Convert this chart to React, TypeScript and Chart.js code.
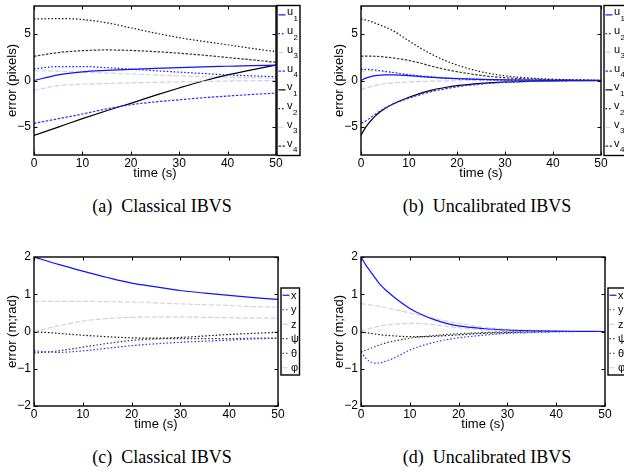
import React, { useEffect, useRef } from "react";
import { Chart, registerables } from "chart.js";

Chart.register(...registerables);

// ---------- data ----------
const T_CLASSIC = [0, 5, 10, 15, 20, 25, 30, 35, 40, 45, 50];
const T_UNCAL = [0, 1, 2, 3, 4, 5, 7, 10, 12.5, 15, 17.5, 20, 25, 30, 35, 40, 45, 50];
const X_TICKS = [0, 10, 20, 30, 40, 50];
const Y_TICKS_PIX = [-5, 0, 5];
const Y_TICKS_POSE = [-2, -1, 0, 1, 2];

// (a) classical IBVS, pixel errors
const A_U1 = [0.0, 0.6, 0.92, 1.08, 1.2, 1.3, 1.38, 1.46, 1.53, 1.6, 1.65];
const A_U2 = [1.25, 1.5, 1.5, 1.38, 1.22, 1.05, 0.9, 0.75, 0.6, 0.5, 0.4];
const A_U3 = [-1.05, -0.55, -0.4, -0.32, -0.25, -0.2, -0.15, -0.1, -0.06, -0.03, 0];
const A_U4 = [-4.6, -4.1, -3.6, -3.05, -2.6, -2.3, -2.07, -1.85, -1.67, -1.5, -1.35];
const A_V1 = [-5.9, -5.0, -4.1, -3.25, -2.45, -1.6, -0.8, -0.05, 0.6, 1.15, 1.65];
const A_V2 = [6.6, 6.65, 6.55, 6.2, 5.65, 5.1, 4.6, 4.2, 3.84, 3.45, 3.1];
const A_V3 = [1.05, 1.0, 0.9, 0.8, 0.7, 0.6, 0.5, 0.42, 0.35, 0.3, 0.25];
const A_V4 = [2.6, 3.0, 3.2, 3.28, 3.23, 3.1, 2.93, 2.72, 2.47, 2.22, 1.96];

// (b) uncalibrated IBVS, pixel errors
const B_U1 = [0, 0.25, 0.42, 0.52, 0.58, 0.6, 0.6, 0.52, 0.42, 0.33, 0.26, 0.2, 0.12, 0.07, 0.04, 0.02, 0.01, 0];
const B_U2 = [1.2, 1.2, 1.18, 1.12, 1.05, 0.98, 0.85, 0.62, 0.47, 0.35, 0.26, 0.19, 0.1, 0.05, 0.03, 0.01, 0, 0];
const B_U3 = [-1.0, -0.8, -0.65, -0.52, -0.42, -0.35, -0.25, -0.15, -0.1, -0.07, -0.05, -0.03, -0.02, -0.01, 0, 0, 0, 0];
const B_U4 = [-4.6, -4.35, -4.0, -3.6, -3.25, -2.95, -2.45, -1.9, -1.5, -1.15, -0.9, -0.68, -0.38, -0.2, -0.1, -0.05, -0.02, 0];
const B_V1 = [-5.9, -5.0, -4.35, -3.8, -3.35, -3.0, -2.45, -1.8, -1.35, -1.0, -0.75, -0.55, -0.3, -0.15, -0.08, -0.04, -0.02, 0];
const B_V2 = [6.6, 6.5, 6.35, 6.15, 5.95, 5.75, 5.25, 4.25, 3.45, 2.75, 2.15, 1.66, 0.94, 0.5, 0.27, 0.14, 0.07, 0.03];
const B_V3 = [1.0, 1.02, 1.03, 1.0, 0.97, 0.92, 0.82, 0.65, 0.52, 0.4, 0.3, 0.22, 0.12, 0.06, 0.03, 0.01, 0, 0];
const B_V4 = [2.6, 2.62, 2.62, 2.6, 2.57, 2.52, 2.4, 2.15, 1.85, 1.5, 1.2, 0.95, 0.55, 0.3, 0.16, 0.08, 0.04, 0.02];

// (c) classical IBVS, pose errors
const C_X = [2.0, 1.8, 1.62, 1.45, 1.3, 1.2, 1.1, 1.03, 0.97, 0.91, 0.86];
const C_Y = [-0.52, -0.56, -0.52, -0.45, -0.38, -0.33, -0.29, -0.26, -0.23, -0.2, -0.18];
const C_Z = [0, 0.15, 0.28, 0.35, 0.38, 0.39, 0.39, 0.38, 0.37, 0.36, 0.36];
const C_PSI = [0, -0.05, -0.1, -0.14, -0.17, -0.18, -0.16, -0.12, -0.08, -0.05, -0.02];
const C_THETA = [-0.58, -0.52, -0.42, -0.32, -0.24, -0.2, -0.19, -0.19, -0.19, -0.18, -0.18];
const C_PHI = [0.81, 0.81, 0.81, 0.8, 0.79, 0.77, 0.74, 0.72, 0.7, 0.67, 0.65];

// (d) uncalibrated IBVS, pose errors
const D_X = [2.0, 1.78, 1.6, 1.42, 1.25, 1.12, 0.9, 0.62, 0.45, 0.32, 0.22, 0.15, 0.08, 0.04, 0.02, 0.01, 0.005, 0];
const D_Y = [-0.55, -0.72, -0.82, -0.85, -0.84, -0.8, -0.7, -0.5, -0.38, -0.29, -0.22, -0.17, -0.1, -0.05, -0.03, -0.01, 0, 0];
const D_Z = [0, 0.05, 0.09, 0.12, 0.15, 0.17, 0.2, 0.22, 0.21, 0.18, 0.14, 0.1, 0.05, 0.02, 0.01, 0, 0, 0];
const D_PSI = [0, -0.03, -0.05, -0.07, -0.09, -0.1, -0.12, -0.14, -0.14, -0.13, -0.11, -0.09, -0.05, -0.03, -0.01, 0, 0, 0];
const D_THETA = [-0.55, -0.5, -0.45, -0.4, -0.35, -0.31, -0.25, -0.18, -0.14, -0.11, -0.08, -0.06, -0.03, -0.01, 0, 0, 0, 0];
const D_PHI = [0.75, 0.73, 0.71, 0.69, 0.67, 0.64, 0.58, 0.5, 0.42, 0.35, 0.28, 0.22, 0.12, 0.06, 0.03, 0.01, 0, 0];

const PIX_LABELS = [["u", "1"], ["u", "2"], ["u", "3"], ["u", "4"], ["v", "1"], ["v", "2"], ["v", "3"], ["v", "4"]];
const POSE_LABELS = [["x", ""], ["y", ""], ["z", ""], ["\u03c8", ""], ["\u03b8", ""], ["\u03c6", ""]];

// ---------- styles ----------
type Style = { color: string; dash: number[] };
const PIX_STYLES: Style[] = [
  { color: "#1010ff", dash: [] },
  { color: "#1010ff", dash: [1.5, 2] },
  { color: "#cdcdf2", dash: [5, 2] },
  { color: "#3030ff", dash: [2.5, 1.5] },
  { color: "#000000", dash: [] },
  { color: "#111111", dash: [1.5, 2] },
  { color: "#d6d6d6", dash: [5, 2] },
  { color: "#333333", dash: [2.5, 1.5] },
];
const POSE_STYLES: Style[] = [
  { color: "#1010ff", dash: [] },
  { color: "#3030ff", dash: [1.5, 2] },
  { color: "#cdcdf2", dash: [5, 2] },
  { color: "#111111", dash: [1.5, 2] },
  { color: "#333333", dash: [1.5, 2] },
  { color: "#d6d6d6", dash: [5, 2] },
];

const SANS = "'Liberation Sans', Arial, Helvetica, sans-serif";

type PanelDef = {
  left: number;
  top: number;
  width: number;
  right: number;
  times: number[];
  series: number[][];
  styles: Style[];
  labels: string[][];
  yMin: number;
  yMax: number;
  yTicks: number[];
  yTitle: string;
  legendX: number;
  legendW: number;
  legendH: number;
};

const PANELS: PanelDef[] = [
  {
    left: 0, top: 0, width: 312, right: 276,
    times: T_CLASSIC, series: [A_U1, A_U2, A_U3, A_U4, A_V1, A_V2, A_V3, A_V4],
    styles: PIX_STYLES, labels: PIX_LABELS, yMin: -8, yMax: 8, yTicks: Y_TICKS_PIX,
    yTitle: "error (pixels)", legendX: 277, legendW: 23, legendH: 150,
  },
  {
    left: 327, top: 0, width: 297, right: 274,
    times: T_UNCAL, series: [B_U1, B_U2, B_U3, B_U4, B_V1, B_V2, B_V3, B_V4],
    styles: PIX_STYLES, labels: PIX_LABELS, yMin: -8, yMax: 8, yTicks: Y_TICKS_PIX,
    yTitle: "error (pixels)", legendX: 277, legendW: 23, legendH: 150,
  },
  {
    left: 0, top: 251, width: 312, right: 278,
    times: T_CLASSIC, series: [C_X, C_Y, C_Z, C_PSI, C_THETA, C_PHI],
    styles: POSE_STYLES, labels: POSE_LABELS, yMin: -2, yMax: 2, yTicks: Y_TICKS_POSE,
    yTitle: "error (m;rad)", legendX: 281, legendW: 18.5, legendH: 87,
  },
  {
    left: 327, top: 251, width: 297, right: 278,
    times: T_UNCAL, series: [D_X, D_Y, D_Z, D_PSI, D_THETA, D_PHI],
    styles: POSE_STYLES, labels: POSE_LABELS, yMin: -2, yMax: 2, yTicks: Y_TICKS_POSE,
    yTitle: "error (m;rad)", legendX: 281, legendW: 18.5, legendH: 87,
  },
];

const CANVAS_H = 190;
const AREA_TOP = 6;
const AREA_BOTTOM = 155;
const AREA_LEFT = 34;

const fmt = (v: number) => (v < 0 ? "\u2212" + Math.abs(v) : String(v));

const matlabPlugin = {
  id: "matlabFrame",
  afterDatasetsDraw(chart: any, _args: any, opts: any) {
    const { ctx, chartArea: ca, scales } = chart;
    ctx.save();
    ctx.setLineDash([]);
    ctx.strokeStyle = "#000";
    // ticks (inward, all four sides)
    ctx.lineWidth = 1;
    const L = 3.5;
    ctx.beginPath();
    scales.x.ticks.forEach((t: any) => {
      const px = Math.round(scales.x.getPixelForValue(t.value)) + 0.5;
      ctx.moveTo(px, ca.bottom);
      ctx.lineTo(px, ca.bottom - L);
      ctx.moveTo(px, ca.top);
      ctx.lineTo(px, ca.top + L);
    });
    scales.y.ticks.forEach((t: any) => {
      const py = Math.round(scales.y.getPixelForValue(t.value)) + 0.5;
      ctx.moveTo(ca.left, py);
      ctx.lineTo(ca.left + L, py);
      ctx.moveTo(ca.right, py);
      ctx.lineTo(ca.right - L, py);
    });
    ctx.stroke();
    // box
    ctx.lineWidth = 1.4;
    ctx.strokeRect(ca.left, ca.top, ca.right - ca.left, ca.bottom - ca.top);

    // legend
    const n = chart.data.datasets.length;
    const lx = opts.legendX;
    const lh = opts.legendH;
    const ly = (ca.top + ca.bottom) / 2 - lh / 2;
    ctx.fillStyle = "#fff";
    ctx.fillRect(lx, ly, opts.legendW, lh);
    ctx.lineWidth = 1.4;
    ctx.strokeStyle = "#000";
    ctx.strokeRect(lx, ly, opts.legendW, lh);
    const step = lh / n;
    chart.data.datasets.forEach((ds: any, i: number) => {
      const cy = ly + step * (i + 0.5);
      ctx.save();
      ctx.strokeStyle = ds.borderColor;
      ctx.setLineDash(ds.borderDash || []);
      ctx.lineWidth = 1.2;
      ctx.beginPath();
      ctx.moveTo(lx + 1.5, cy);
      ctx.lineTo(lx + 8.5, cy);
      ctx.stroke();
      ctx.restore();
      const [main, sub] = opts.labels[i];
      ctx.fillStyle = "#000";
      ctx.textAlign = "left";
      ctx.textBaseline = "alphabetic";
      ctx.font = `11px ${SANS}`;
      const base = sub ? cy + 0.5 : cy + 3.5;
      ctx.fillText(main, lx + 10, base);
      if (sub) {
        const w = ctx.measureText(main).width;
        ctx.font = `8px ${SANS}`;
        ctx.fillText(sub, lx + 10 + w + 0.5, cy + 6);
      }
    });
    ctx.restore();
  },
};

function PanelChart({ def }: { def: PanelDef }) {
  const ref = useRef<HTMLCanvasElement | null>(null);
  useEffect(() => {
    if (!ref.current) return;
    const datasets = def.series.map((s, i) => ({
      label: def.labels[i].join(""),
      data: def.times.map((t, j) => ({ x: t, y: s[j] })),
      borderColor: def.styles[i].color,
      borderDash: def.styles[i].dash,
      borderWidth: 1.2,
      pointRadius: 0,
      fill: false,
      cubicInterpolationMode: "monotone" as const,
    }));
    const chart = new Chart(ref.current, {
      type: "line",
      data: { datasets },
      plugins: [matlabPlugin],
      options: {
        animation: false,
        responsive: false,
        maintainAspectRatio: false,
        layout: { padding: { left: 0, top: AREA_TOP, right: def.width - def.right, bottom: 0 } },
        plugins: {
          legend: { display: false },
          tooltip: { enabled: false },
          matlabFrame: { legendX: def.legendX, legendW: def.legendW, legendH: def.legendH, labels: def.labels },
        } as any,
        scales: {
          x: {
            type: "linear",
            min: 0,
            max: 50,
            afterBuildTicks: (s: any) => {
              s.ticks = X_TICKS.map((v) => ({ value: v }));
            },
            afterFit: (s: any) => {
              s.height = CANVAS_H - AREA_BOTTOM;
              s.paddingLeft = 0;
              s.paddingRight = 0;
            },
            grid: { display: false, drawTicks: false },
            border: { display: false },
            ticks: {
              autoSkip: false,
              maxRotation: 0,
              padding: 1,
              color: "#000",
              font: { family: SANS, size: 12 },
              callback: (v: any) => fmt(Number(v)),
            },
            title: {
              display: true,
              text: "time (s)",
              color: "#000",
              font: { family: SANS, size: 13 },
              padding: { top: 0, bottom: 9 },
            },
          },
          y: {
            type: "linear",
            min: def.yMin,
            max: def.yMax,
            afterBuildTicks: (s: any) => {
              s.ticks = def.yTicks.map((v) => ({ value: v }));
            },
            afterFit: (s: any) => {
              s.width = AREA_LEFT;
              s.paddingTop = 0;
              s.paddingBottom = 0;
            },
            grid: { display: false, drawTicks: false },
            border: { display: false },
            ticks: {
              autoSkip: false,
              padding: 3,
              color: "#000",
              font: { family: SANS, size: 12 },
              callback: (v: any) => fmt(Number(v)),
            },
            title: {
              display: true,
              text: def.yTitle,
              color: "#000",
              font: { family: SANS, size: 13 },
              padding: { top: 5, bottom: 0 },
            },
          },
        },
      } as any,
    });
    return () => chart.destroy();
  }, [def]);
  return (
    <canvas
      ref={ref}
      width={def.width}
      height={CANVAS_H}
      style={{ position: "absolute", left: def.left, top: def.top, width: def.width, height: CANVAS_H }}
    />
  );
}

const CAPTIONS = [
  { tag: "(a)", text: "Classical IBVS", cx: 162, cy: 206 },
  { tag: "(b)", text: "Uncalibrated IBVS", cx: 487, cy: 206 },
  { tag: "(c)", text: "Classical IBVS", cx: 162, cy: 457 },
  { tag: "(d)", text: "Uncalibrated IBVS", cx: 487, cy: 457 },
];

export default function App() {
  return (
    <div
      style={{
        position: "fixed",
        left: 0,
        top: 0,
        width: 624,
        height: 472,
        overflow: "hidden",
        background: "#fff",
      }}
    >
      {PANELS.map((p, i) => (
        <PanelChart key={i} def={p} />
      ))}
      {CAPTIONS.map((c, i) => (
        <div
          key={i}
          style={{
            position: "absolute",
            left: c.cx - 150,
            top: c.cy - 10,
            width: 300,
            height: 20,
            lineHeight: "20px",
            textAlign: "center",
            fontFamily: "'Liberation Serif', 'Times New Roman', serif",
            fontSize: 18,
            color: "#000",
            whiteSpace: "nowrap",
          }}
        >
          <span>{c.tag}</span>
          <span style={{ marginLeft: 9 }}>{c.text}</span>
        </div>
      ))}
    </div>
  );
}
